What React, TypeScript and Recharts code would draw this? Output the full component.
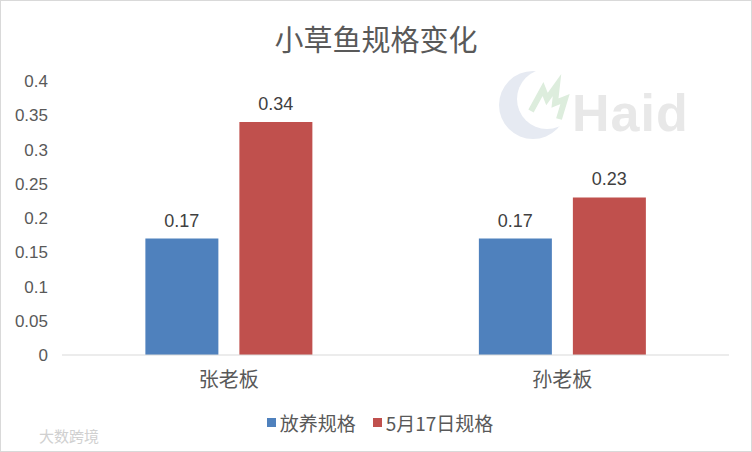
import { BarChart, Bar, XAxis, YAxis, Legend, LabelList } from 'recharts';

// 小草鱼规格变化
const categories = ['张老板', '孙老板'];
const stockingSize = [0.17, 0.17];
const may17Size = [0.34, 0.23];
const yTicks = [0, 0.05, 0.1, 0.15, 0.2, 0.25, 0.3, 0.35, 0.4];
const seriesNames = ['放养规格', '5月17日规格'];

const data = categories.map((name, i) => ({
  name,
  stock: stockingSize[i],
  may17: may17Size[i],
}));

const colors = {
  blue: '#4F81BD',
  red: '#C0504D',
  text: '#595959',
  label: '#404040',
  axis: '#D9D9D9',
};

const font = '"Noto Sans CJK SC", "Liberation Sans", sans-serif';
const numFont = '"Liberation Sans", Arial, sans-serif';

// legend kept in series order (recharts 3 sorts by name otherwise)
function LegendContent() {
  const swatches = [colors.blue, colors.red];
  return (
    <div style={{ display: 'flex', justifyContent: 'center', alignItems: 'center', gap: 17, paddingLeft: 30, paddingTop: 14 }}>
      {seriesNames.map((n, i) => (
        <div key={n} style={{ display: 'flex', alignItems: 'center', gap: 4 }}>
          <span style={{ display: 'inline-block', width: 9, height: 9, background: swatches[i] }} />
          <span style={{ fontSize: 19, color: colors.text, fontFamily: font }}>{n}</span>
        </div>
      ))}
    </div>
  );
}

export default function App() {
  return (
    <div
      style={{
        position: 'relative',
        width: 752,
        height: 452,
        boxSizing: 'border-box',
        border: '1px solid #D9D9D9',
        background: '#FFFFFF',
        fontFamily: font,
      }}
    >
      <style>{`body { margin: 0; }`}</style>
      <div
        style={{
          position: 'absolute',
          top: 17,
          left: 0,
          width: '100%',
          textAlign: 'center',
          fontSize: 29,
          lineHeight: '40px',
          color: colors.text,
        }}
      >
        小草鱼规格变化
      </div>
      {/* watermark logo */}
      <svg style={{ position: 'absolute', left: 494, top: 66 }} width={90} height={76}>
        <circle cx={38} cy={38} r={34} fill="#E6EAF2" />
        <circle cx={52} cy={32} r={30} fill="#FFFFFF" />
        <path d="M36 44 L48 22 L52 32 L62 18 L60 36 L70 32 L64 52" stroke="#DDEDDD" strokeWidth={6} fill="none" />
      </svg>
      <div
        style={{
          position: 'absolute',
          left: 571,
          top: 82,
          fontFamily: numFont,
          fontWeight: 700,
          fontSize: 52,
          color: '#E8E8E8',
          letterSpacing: 1,
        }}
      >
        Haid
      </div>
      <div
        style={{
          position: 'absolute',
          left: 38,
          top: 424,
          fontSize: 15,
          color: '#D0D0D0',
        }}
      >
        大数跨境
      </div>
      <BarChart
        width={750}
        height={450}
        data={data}
        margin={{ top: 80, right: 22, left: 0, bottom: 14 }}
        barCategoryGap="25%"
        barGap={21}
      >
        <XAxis
          dataKey="name"
          axisLine={{ stroke: colors.axis }}
          tickLine={false}
          tick={{ fill: colors.text, fontSize: 20, fontFamily: font }}
          tickMargin={12}
          height={40}
        />
        <YAxis
          width={61}
          domain={[0, 0.4]}
          ticks={yTicks}
          axisLine={false}
          tickLine={false}
          tickSize={0}
          tickMargin={14}
          tick={{ fill: colors.text, fontSize: 17, fontFamily: numFont }}
        />
        <Legend verticalAlign="bottom" height={42} content={<LegendContent />} />
        <Bar dataKey="stock" name={seriesNames[0]} fill={colors.blue} isAnimationActive={false}>
          <LabelList dataKey="stock" position="top" offset={12} fill={colors.label} fontSize={18} fontFamily={numFont} />
        </Bar>
        <Bar dataKey="may17" name={seriesNames[1]} fill={colors.red} isAnimationActive={false}>
          <LabelList dataKey="may17" position="top" offset={12} fill={colors.label} fontSize={18} fontFamily={numFont} />
        </Bar>
      </BarChart>
    </div>
  );
}
